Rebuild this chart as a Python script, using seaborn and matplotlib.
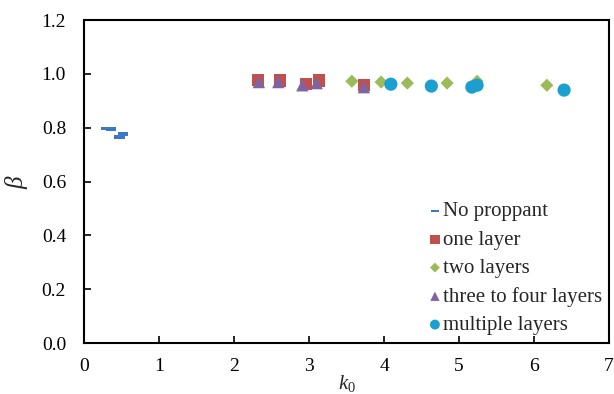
import matplotlib
matplotlib.use("Agg")
import matplotlib.pyplot as plt
from matplotlib.path import Path
import seaborn as sns
import pandas as pd

# k0 / beta measurements per proppant arrangement
no_prop_k = [0.30, 0.36, 0.47, 0.52]
no_prop_b = [0.797, 0.795, 0.765, 0.776]

one_k = [2.32, 2.61, 2.96, 3.13, 3.73]
one_b = [0.977, 0.975, 0.963, 0.975, 0.958]

two_k = [3.57, 3.96, 4.31, 4.84, 5.24, 6.17]
two_b = [0.973, 0.970, 0.966, 0.966, 0.973, 0.958]

three_k = [2.33, 2.59, 2.91, 3.10, 3.73]
three_b = [0.970, 0.970, 0.958, 0.966, 0.951]

multi_k = [4.09, 4.63, 5.17, 5.24, 6.40]
multi_b = [0.962, 0.955, 0.951, 0.958, 0.940]

x_ticks = [0, 1, 2, 3, 4, 5, 6, 7]
y_ticks = [0.0, 0.2, 0.4, 0.6, 0.8, 1.0, 1.2]

sns.set_theme(style="white")
plt.rcParams["font.family"] = ["Liberation Serif", "DejaVu Serif"]
plt.rcParams["mathtext.fontset"] = "custom"
plt.rcParams["mathtext.it"] = "Liberation Serif:italic"
plt.rcParams["mathtext.rm"] = "Liberation Serif"

fig = plt.figure(figsize=(6.14, 3.94), dpi=100)
ax = fig.add_axes([0.137, 0.129, 0.855, 0.820])

dash = Path([(-1, -0.34), (1, -0.34), (1, 0.34), (-1, 0.34), (-1, -0.34)],
            [Path.MOVETO, Path.LINETO, Path.LINETO, Path.LINETO, Path.CLOSEPOLY])

series = [
    ("No proppant", no_prop_k, no_prop_b, dash, 55, "#3B78C6"),
    ("one layer", one_k, one_b, "s", 80, "#C0504D"),
    ("two layers", two_k, two_b, "D", 45, "#9BBB59"),
    ("three to four layers", three_k, three_b, "^", 80, "#8064A2"),
    ("multiple layers", multi_k, multi_b, "o", 90, "#1A9FD0"),
]

for name, k, b, mk, size, col in series:
    df = pd.DataFrame({"k0": k, "beta": b})
    sns.scatterplot(data=df, x="k0", y="beta", marker=mk, s=size, color=col,
                    edgecolor="none", linewidth=0, label=name, ax=ax)

ax.set_xlim(0, 7)
ax.set_ylim(0, 1.2)
ax.set_xticks(x_ticks)
ax.set_yticks(y_ticks)
ax.set_xticklabels([str(t) for t in x_ticks])
ax.set_yticklabels([f"{t:.1f}" for t in y_ticks])
ax.tick_params(direction="in", length=5, width=1.2, colors="black",
               labelsize=14, bottom=True, left=True)
ax.tick_params(axis="y", pad=13)
ax.tick_params(axis="x", pad=11)
for sp in ax.spines.values():
    sp.set_color("black")
    sp.set_linewidth(1.5)

ax.set_xlabel("$k_0$", fontsize=15, labelpad=-2)
ax.set_ylabel(r"$\beta$", fontsize=18, labelpad=8)

leg = ax.legend(loc="lower right", bbox_to_anchor=(1.015, -0.02), frameon=False,
                fontsize=15, handletextpad=0.0, labelspacing=0.42,
                borderaxespad=0.3, markerscale=0.75, handlelength=0.8)

fig.savefig("out.png", dpi=100)
